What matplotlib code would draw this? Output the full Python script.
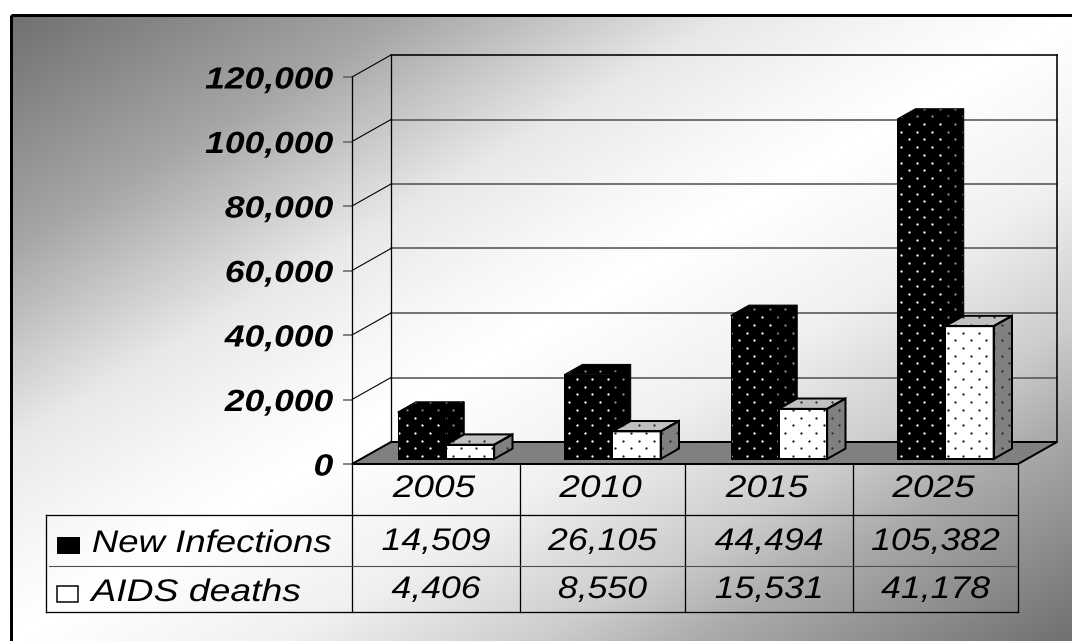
import numpy as np
import matplotlib
matplotlib.use('Agg')
import matplotlib.pyplot as plt
from matplotlib.patches import Polygon, Rectangle
from matplotlib.patheffects import AbstractPathEffect
from matplotlib.transforms import Affine2D

years = ['2005', '2010', '2015', '2025']
new_infections = [14509, 26105, 44494, 105382]
aids_deaths = [4406, 8550, 15531, 41178]
series_names = ['New Infections', 'AIDS deaths']
y_ticks = [0, 20000, 40000, 60000, 80000, 100000, 120000]

W, H = 1072, 641
# depth of the 3D box, in category units and value units
depth_x = 39 / (666 / 4)
depth_y = 22 * 120000 / 387
bar_left = 0.22
bar_width = 0.29
bar_d0 = 0.23
bar_d1 = 0.70


class WideText(AbstractPathEffect):
    # stretches the glyphs sideways, the font is narrower than Arial Wide
    def __init__(self, sx, align='center'):
        super().__init__()
        self.sx = sx
        self.align = align

    def draw_path(self, renderer, gc, tpath, affine, rgbFace=None):
        box = tpath.transformed(affine).get_extents()
        cx = {'left': box.x0, 'right': box.x1, 'center': (box.x0 + box.x1) / 2}[self.align]
        stretched = affine + Affine2D().translate(-cx, 0).scale(self.sx, 1).translate(cx, 0)
        renderer.draw_path(gc, tpath, stretched, rgbFace)


def px(n):
    return n * 72 / 100


fig = plt.figure(figsize=(W / 100, H / 100), dpi=100)
plt.rcParams['font.family'] = ['Liberation Sans']

# page axes work in pixels, used for the frame, the table and the dot texture
page = fig.add_axes([0, 0, 1, 1], zorder=0)
page.set_xlim(0, W)
page.set_ylim(H, 0)
page.axis('off')

xx, yy = np.meshgrid(np.linspace(0, 1, 536), np.linspace(0, 1, 320))
shade = np.interp(xx + yy,
                  [0, 0.37, 0.68, 0.87, 1.0, 1.26, 1.5, 1.65, 2.0],
                  [0.44, 0.65, 0.91, 0.97, 1.0, 0.94, 0.80, 0.67, 0.44])
page.imshow(shade, extent=(11, W, H, 15), cmap='gray', vmin=0, vmax=1, aspect='auto', zorder=0)
page.set_xlim(0, W)
page.set_ylim(H, 0)
page.plot([11, 11], [H, 15], color='black', lw=px(3), zorder=1, solid_capstyle='butt')
page.plot([11, W], [15, 15], color='black', lw=px(3), zorder=1, solid_capstyle='butt')

# data table under the chart
col_x = [352, 520, 685, 853, 1018]
for x in col_x:
    page.plot([x, x], [464, 612], color='black', lw=px(1.3), zorder=2)
page.plot([46, 46], [515, 612], color='black', lw=px(1.3), zorder=2)
page.plot([46, 1018], [515, 515], color='black', lw=px(1.3), zorder=2)
page.plot([49, 1016], [566, 566], color='#505050', lw=px(1.1), zorder=2)
page.plot([46, 1018], [612, 612], color='black', lw=px(1.3), zorder=2)

table_font = 22.5
for i, year in enumerate(years):
    cx = (col_x[i] + col_x[i + 1]) / 2
    page.text(cx - 2, 497, year, fontsize=table_font, style='italic', ha='center', va='baseline',
              path_effects=[WideText(1.185)])
    page.text(cx, 550, f'{new_infections[i]:,}', fontsize=table_font, style='italic', ha='center', va='baseline',
              path_effects=[WideText(1.14)])
    page.text(cx, 598, f'{aids_deaths[i]:,}', fontsize=table_font, style='italic', ha='center', va='baseline',
              path_effects=[WideText(1.14)])

page.text(92, 552, series_names[0], fontsize=table_font, style='italic', ha='left', va='baseline',
          path_effects=[WideText(1.17, 'left')])
page.text(91, 601, series_names[1], fontsize=table_font, style='italic', ha='left', va='baseline',
          path_effects=[WideText(1.195, 'left')])

# chart axes cover the front plane of the box
ax = fig.add_axes([352 / W, (H - 464) / H, 666 / W, 387 / H], zorder=1)
ax.patch.set_alpha(0)
ax.set_xlim(0, 4)
ax.set_ylim(0, 120000)
for side in ['top', 'right', 'bottom']:
    ax.spines[side].set_visible(False)
ax.spines['left'].set_linewidth(px(1.3))
ax.set_xticks([])
ax.set_yticks(y_ticks)
ax.set_yticklabels([f'{v:,}' for v in y_ticks], fontsize=22, fontweight='bold', style='italic')
ax.tick_params(axis='y', length=6.5, width=px(1.5), color='#606060', pad=7)
for label in ax.get_yticklabels():
    label.set_path_effects([WideText(1.16, 'right')])


def project(x, v, d):
    return (x + d * depth_x, v + d * depth_y)


def add_poly(points, color, z, edge='none', lw=0):
    poly = Polygon(points, closed=True, facecolor=color, edgecolor=edge, linewidth=px(lw),
                   zorder=z, clip_on=False, joinstyle='miter')
    ax.add_patch(poly)
    return poly


def add_dots(poly, color, z, size=2.8):
    # staggered dot texture clipped to one face, laid out in pixels
    step = 15.45
    gx, gy = np.meshgrid(np.arange(-1, 72) * step + 909 - 46 * step, np.arange(-1, 42) * step + 124 - 7 * step)
    dots_x = np.concatenate([gx.ravel(), gx.ravel() - step / 2])
    dots_y = np.concatenate([gy.ravel(), gy.ravel() + step / 2])
    dots = ax.scatter(dots_x, dots_y, s=size, c=color, linewidths=0, transform=page.transData, zorder=z)
    dots.set_clip_path(poly)


def draw_bar(x, width, value, z, front, side, top, dot, side_dot, edge_lw):
    x1 = x + width
    front_pts = [project(x, 0, bar_d0), project(x1, 0, bar_d0), project(x1, value, bar_d0), project(x, value, bar_d0)]
    side_pts = [project(x1, 0, bar_d0), project(x1, 0, bar_d1), project(x1, value, bar_d1), project(x1, value, bar_d0)]
    top_pts = [project(x, value, bar_d0), project(x1, value, bar_d0), project(x1, value, bar_d1), project(x, value, bar_d1)]
    for pts, color, dot_color in [(side_pts, side, side_dot), (top_pts, top, side_dot), (front_pts, front, dot)]:
        add_dots(add_poly(pts, color, z), dot_color, z + 0.1)
        add_poly(pts, 'none', z + 0.2, edge='black', lw=edge_lw)


# floor
add_poly([project(0, 0, 0), project(4, 0, 0), project(4, 0, 1), project(0, 0, 1)], '#808080', 1, edge='black', lw=2)

# back walls and gridlines
for v in y_ticks[1:]:
    is_top = v == y_ticks[-1]
    xs, ys = zip(project(0, v, 1), project(4, v, 1))
    ax.plot(xs, ys, color='black' if is_top else '#555555', lw=px(1.6), zorder=0.5, clip_on=False)
    xs, ys = zip(project(0, v, 0), project(0, v, 1))
    ax.plot(xs, ys, color='black', lw=px(1.1), zorder=0.5, clip_on=False)
xs, ys = zip(project(0, 0, 1), project(0, 120000, 1))
ax.plot(xs, ys, color='black', lw=px(1.3), zorder=0.5, clip_on=False)
xs, ys = zip(project(4, 0, 1), project(4, 120000, 1))
ax.plot(xs, ys, color='black', lw=px(1.6), zorder=0.5, clip_on=False)

for i in range(len(years)):
    x = i + bar_left
    draw_bar(x, bar_width, new_infections[i], 2 + i, 'black', 'black', 'black', 'white', '#8a8a8a', 1)
    draw_bar(x + bar_width, bar_width, aids_deaths[i], 2.5 + i, 'white', '#808080', '#c0c0c0', '#202020', '#303030', 2)

# legend keys in the table
key_black = Rectangle((57, 537), 22, 16, facecolor='black', edgecolor='black', linewidth=px(1),
                      transform=page.transData, zorder=9, clip_on=False)
key_white = Rectangle((57, 586), 21, 16, facecolor='white', edgecolor='black', linewidth=px(1.5),
                      transform=page.transData, zorder=9, clip_on=False)
ax.add_patch(key_black)
ax.add_patch(key_white)
add_dots(key_black, 'white', 9.1, size=2)
add_dots(key_white, '#202020', 9.1, size=2)

plt.savefig('out.png', dpi=100)
plt.close()
